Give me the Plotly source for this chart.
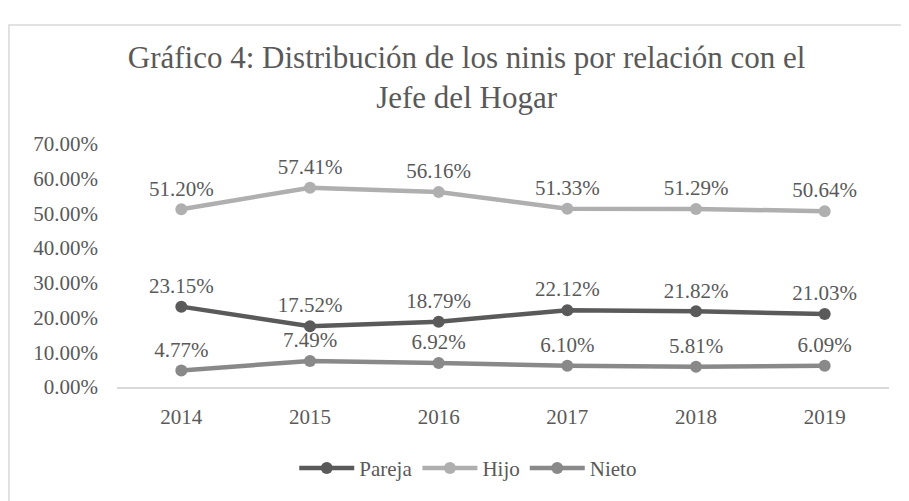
import plotly.graph_objects as go

# Data
years = ["2014", "2015", "2016", "2017", "2018", "2019"]
pareja = [0.2315, 0.1752, 0.1879, 0.2212, 0.2182, 0.2103]
hijo = [0.5120, 0.5741, 0.5616, 0.5133, 0.5129, 0.5064]
nieto = [0.0477, 0.0749, 0.0692, 0.0610, 0.0581, 0.0609]

font_name = "'Liberation Serif', 'DejaVu Serif', 'Times New Roman', serif"
text_col = "#595959"

fig = go.Figure()

series = [("Pareja", pareja, "#5a5a5a"),
          ("Hijo", hijo, "#afafaf"),
          ("Nieto", nieto, "#898989")]

for name, vals, col in series:
    fig.add_trace(go.Scatter(x=years, y=vals, name=name,
                             mode="lines+markers+text",
                             line=dict(color=col, width=4.5),
                             marker=dict(color=col, size=12),
                             text=["%.2f%%" % (v * 100) for v in vals],
                             textposition="top center",
                             textfont=dict(family=font_name, size=21, color=text_col),
                             cliponaxis=False))

# outer chart border
fig.add_shape(type="rect", xref="paper", yref="paper",
              x0=-0.14, x1=1.03, y0=-0.5, y1=1.49,
              line=dict(color="#d9d9d9", width=1.5), layer="below")

# page body adds 8px, so the figure is a bit smaller
fig.update_layout(
    width=901, height=493,
    margin=dict(l=109, r=20, t=136, b=104),
    paper_bgcolor="white", plot_bgcolor="white",
    font=dict(family=font_name, size=21, color=text_col),
    title=dict(text="Gráfico 4: Distribución de los ninis por relación con el<br>Jefe del Hogar",
               x=0.509, xanchor="center", y=0.878, yanchor="top",
               font=dict(family=font_name, size=31, color=text_col)),
    xaxis=dict(range=[-0.5, 5.5], showgrid=False, showline=True,
               linecolor="#d9d9d9", linewidth=1.5, ticks="",
               ticklabelstandoff=10,
               tickfont=dict(family=font_name, size=21, color=text_col)),
    yaxis=dict(range=[0, 0.7], dtick=0.1, tickformat=".2%", showgrid=False,
               zeroline=False, ticks="", ticklabelstandoff=18,
               tickfont=dict(family=font_name, size=21, color=text_col)),
    legend=dict(orientation="h", x=0.455, xanchor="center", y=-0.25, yanchor="top",
                itemwidth=55,
                font=dict(family=font_name, size=21, color=text_col)),
    showlegend=True,
)

fig.write_html("out.html")
